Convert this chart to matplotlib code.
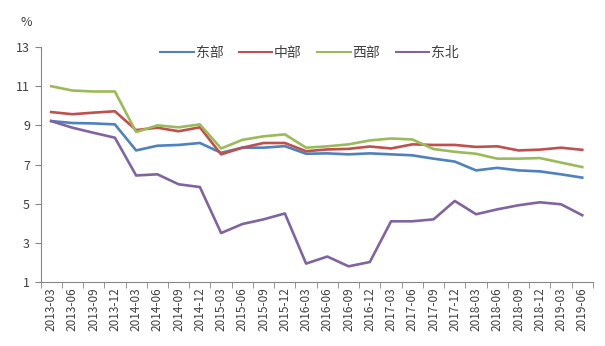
import numpy as np
import matplotlib.pyplot as plt

plt.rcParams['font.family'] = ['Noto Sans CJK SC', 'DejaVu Sans']

# quarters
quarters = ['2013-03', '2013-06', '2013-09', '2013-12',
            '2014-03', '2014-06', '2014-09', '2014-12',
            '2015-03', '2015-06', '2015-09', '2015-12',
            '2016-03', '2016-06', '2016-09', '2016-12',
            '2017-03', '2017-06', '2017-09', '2017-12',
            '2018-03', '2018-06', '2018-09', '2018-12',
            '2019-03', '2019-06']

east = [9.22, 9.12, 9.1, 9.05, 7.72, 7.96, 8.0, 8.1, 7.6, 7.86, 7.86, 7.94, 7.55,
        7.57, 7.52, 7.57, 7.52, 7.47, 7.3, 7.15, 6.7, 6.83, 6.7, 6.65, 6.5, 6.33]
central = [9.68, 9.57, 9.65, 9.72, 8.76, 8.88, 8.7, 8.9, 7.52, 7.86, 8.1, 8.1, 7.68,
           7.77, 7.8, 7.92, 7.82, 8.03, 8.0, 8.0, 7.9, 7.93, 7.72, 7.76, 7.86, 7.75]
west = [11.0, 10.78, 10.73, 10.73, 8.66, 9.0, 8.9, 9.05, 7.82, 8.26, 8.44, 8.54, 7.86,
        7.93, 8.03, 8.23, 8.33, 8.28, 7.79, 7.65, 7.55, 7.3, 7.3, 7.33, 7.1, 6.87]
northeast = [9.22, 8.88, 8.62, 8.37, 6.44, 6.5, 5.99, 5.85, 3.5, 3.96, 4.2, 4.5, 1.94,
             2.3, 1.8, 2.02, 4.1, 4.1, 4.2, 5.14, 4.46, 4.71, 4.92, 5.07, 4.97, 4.41]

series = [('东部', east, '#4F81BD'),
          ('中部', central, '#C0504D'),
          ('西部', west, '#9BBB59'),
          ('东北', northeast, '#8064A2')]

fig = plt.figure(figsize=(6.05, 3.46), dpi=100)
ax = fig.add_axes([0.067, 0.185, 0.913, 0.679])

x = np.arange(len(quarters))
for name, vals, col in series:
    ax.plot(x, vals, color=col, lw=1.9, label=name, solid_joinstyle='round')

ax.set_xlim(-0.5, len(quarters) - 0.5)
ax.set_ylim(1, 13)
ax.set_yticks(range(1, 14, 2))
ax.set_xticks(x)
ax.set_xticklabels(quarters, rotation=90, fontsize=8.5, color='#404040')
ax.set_xticks(np.arange(-0.5, len(quarters)), minor=True)
ax.tick_params(axis='x', which='major', length=0, pad=4)
ax.tick_params(axis='x', which='minor', length=4, color='#868686', direction='out')
ax.tick_params(axis='y', length=4, color='#868686', labelsize=9, labelcolor='#404040')

for s in ['top', 'right']:
    ax.spines[s].set_visible(False)
for s in ['left', 'bottom']:
    ax.spines[s].set_color('#868686')
    ax.spines[s].set_linewidth(0.8)

fig.text(26 / 605, 1 - 22 / 346, '%', ha='center', va='center', fontsize=9, color='#404040')

leg = ax.legend(loc='center', bbox_to_anchor=(0.487, 0.975), ncol=4, frameon=False,
                fontsize=10, handlelength=2.4, handletextpad=0.15, columnspacing=1.1,
                labelcolor='#404040')
for h in leg.get_lines():
    h.set_linewidth(1.5)

fig.savefig('out.png', dpi=100)
